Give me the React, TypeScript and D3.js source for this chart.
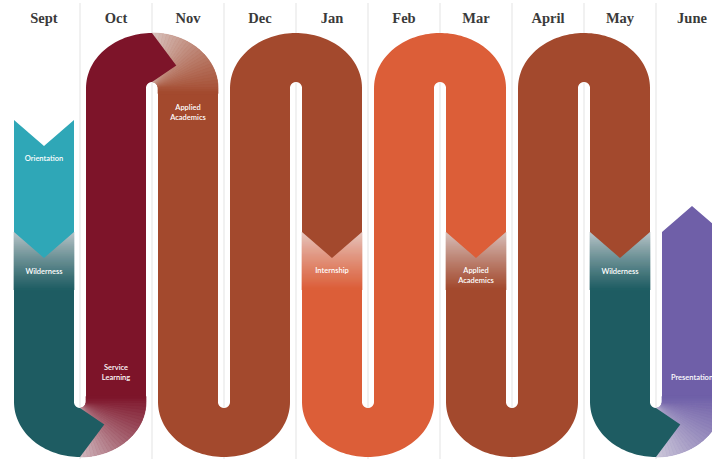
import React from 'react';
import * as d3 from 'd3';

// ---------- data ----------
const months = ['Sept', 'Oct', 'Nov', 'Dec', 'Jan', 'Feb', 'Mar', 'April', 'May', 'June'];
const phaseNames = [
  'Orientation',
  'Wilderness',
  'Service Learning',
  'Applied Academics',
  'Internship',
  'Applied Academics',
  'Wilderness',
  'Presentation',
];
const phaseColors = ['#2fa7b7', '#1e5c62', '#7d1429', '#a3492d', '#dc5e38', '#a3492d', '#1e5c62', '#6f5fa8'];
// where each phase ends: on a month's strand, or in the bend after a month
const phaseEndKind = ['strand', 'bend', 'bend', 'strand', 'strand', 'strand', 'bend', 'strand'];
const phaseEndMonth = [0, 0, 1, 4, 6, 8, 8, 9];

// ---------- layout ----------
const W = 712;
const H = 459;
const HW = 30; // half ribbon width
const INNER = 6; // half slit width
const OUTER_RY = 55;
const TOP_CY = 88;
const BOT_CY = 402;
const START_Y = 120;
const END_Y = 185;
const CHEVRON_Y = 232;
const D = 26; // chevron depth
const G = 58; // gradient length
const labelMonth = [0, 0, 1, 2, 4, 6, 8, 9];
const labelDepth = [161, 274, 370, 110, 273, 273, 274, 380];

type Pt = [number, number];
type Fn = (u: number) => Pt;

function buildRibbon(x: d3.ScaleBand<string>) {
  const bw = x.bandwidth();
  const R = bw / 2;
  const fns: Fn[] = [];
  const strands: { idx: number; y0: number }[] = [];
  const bends: { i0: number; i1: number }[] = [];
  const n = months.length;
  for (let i = 0; i < n; i++) {
    const cx = (x(months[i]) as number) + bw / 2;
    const down = i % 2 === 0;
    const y0 = i === 0 ? START_Y : down ? TOP_CY : BOT_CY;
    const y1 = i === n - 1 ? END_Y : down ? BOT_CY : TOP_CY;
    const steps = Math.max(1, Math.ceil(Math.abs(y1 - y0) / 2));
    strands.push({ idx: fns.length, y0 });
    const last = i === n - 1;
    for (let k = 0; k < (last ? steps + 1 : steps); k++) {
      const y = y0 + ((y1 - y0) * k) / steps;
      fns.push((u) => [down ? cx - HW * u : cx + HW * u, y]);
    }
    if (i < n - 1) {
      const bx = cx + bw / 2;
      const bottom = down;
      const cy = bottom ? BOT_CY : TOP_CY;
      const m = 60;
      const i0 = fns.length;
      for (let k = 0; k < m; k++) {
        const th = bottom ? Math.PI - (Math.PI * k) / m : Math.PI + (Math.PI * k) / m;
        fns.push((u) => {
          const r = bottom ? R + HW * u : R - HW * u;
          const ry = INNER + ((r - INNER) * (OUTER_RY - INNER)) / (2 * HW);
          return [bx + r * Math.cos(th), cy + ry * Math.sin(th)];
        });
      }
      bends.push({ i0, i1: fns.length });
    }
  }
  const S: number[] = [0];
  let prev = fns[0](0);
  for (let k = 1; k < fns.length; k++) {
    const c = fns[k](0);
    S.push(S[k - 1] + Math.hypot(c[0] - prev[0], c[1] - prev[1]));
    prev = c;
  }
  const at = (s: number, u: number): Pt => {
    const ss = Math.max(0, Math.min(S[S.length - 1], s));
    let k = d3.bisectRight(S, ss) - 1;
    k = Math.max(0, Math.min(S.length - 2, k));
    const t = (ss - S[k]) / (S[k + 1] - S[k] || 1);
    const a = fns[k](u);
    const b = fns[k + 1](u);
    return [a[0] + (b[0] - a[0]) * t, a[1] + (b[1] - a[1]) * t];
  };
  const strandS = (i: number, y: number) => S[strands[i].idx] + Math.abs(y - strands[i].y0);
  const bendMid = (i: number) => (S[bends[i].i0] + S[bends[i].i1]) / 2;
  return { at, strandS, bendMid };
}

export default function App() {
  const x = d3.scaleBand<string>().domain(months).range([8, 8 + 72 * months.length]);
  const bw = x.bandwidth();
  const { at, strandS, bendMid } = buildRibbon(x);
  const line = d3.line<Pt>();

  const bounds: number[] = [0];
  phaseNames.forEach((_, k) => {
    bounds.push(phaseEndKind[k] === 'strand' ? strandS(phaseEndMonth[k], CHEVRON_Y) : bendMid(phaseEndMonth[k]));
  });

  const phases = phaseNames.map((name, k) => {
    const s0 = bounds[k];
    const s1 = bounds[k + 1];
    const pts: Pt[] = [];
    for (let s = s0; s < s1; s += 1.5) pts.push(at(s, -1));
    pts.push(at(s1, -1));
    pts.push(at(s1 + D, 0));
    pts.push(at(s1, 1));
    for (let s = s1; s > s0; s -= 1.5) pts.push(at(s, 1));
    pts.push(at(s0, 1));
    if (k === 0) pts.push(at(s0 + D, 0));
    const color = phaseColors[k];
    const light = d3.interpolateRgb(color, '#e8e6e8')(0.8);
    const quads: { d: string; c: string }[] = [];
    if (k > 0) {
      const step = 2;
      for (let s = s0; s < s0 + G; s += step) {
        const t = (s + step / 2 - s0) / G;
        const c = d3.interpolateRgb(light, color)(Math.pow(t, 0.85));
        const q: Pt[] = [at(s, -1), at(s + step, -1), at(s + step, 1), at(s, 1)];
        quads.push({ d: (line(q) as string) + 'Z', c });
      }
    }
    return { k, name, d: (line(pts) as string) + 'Z', color, quads };
  });

  const gridXs = months.slice(1).map((m) => x(m) as number);

  return (
    <svg
      width={W}
      height={H}
      viewBox={`0 0 ${W} ${H}`}
      style={{ position: 'absolute', left: 0, top: 0, display: 'block', background: '#fff' }}
    >
      <rect x={0} y={0} width={W} height={H} fill="#fff" />
      {gridXs.map((gx) => (
        <line key={gx} x1={gx} x2={gx} y1={3} y2={H} stroke="#e3e3e3" strokeWidth={1} />
      ))}
      {phases
        .slice()
        .reverse()
        .map((p) => (
          <g key={p.k}>
            <path d={p.d} fill={p.color} />
            {p.quads.map((q, i) => (
              <path key={i} d={q.d} fill={q.c} stroke={q.c} strokeWidth={0.7} />
            ))}
          </g>
        ))}
      {phaseNames.map((name, k) => {
        const cx = (x(months[labelMonth[k]]) as number) + bw / 2;
        const words = name === 'Orientation' || name === 'Wilderness' || name === 'Internship' || name === 'Presentation'
          ? [name]
          : name.split(' ');
        return (
          <text
            key={k}
            x={cx}
            y={labelDepth[k]}
            textAnchor="middle"
            fill="#fff"
            fontFamily="Lato, 'Open Sans', sans-serif"
            fontSize={7.5}
            fontWeight={600}
          >
            {words.map((w, i) => (
              <tspan key={i} x={cx} dy={i === 0 ? 0 : 9.5}>
                {w}
              </tspan>
            ))}
          </text>
        );
      })}
      {months.map((m) => (
        <text
          key={m}
          x={(x(m) as number) + bw / 2}
          y={23}
          textAnchor="middle"
          fill="#3a3a3a"
          fontFamily="'Liberation Serif', 'DejaVu Serif', serif"
          fontWeight="bold"
          fontSize={14.5}
        >
          {m}
        </text>
      ))}
    </svg>
  );
}
